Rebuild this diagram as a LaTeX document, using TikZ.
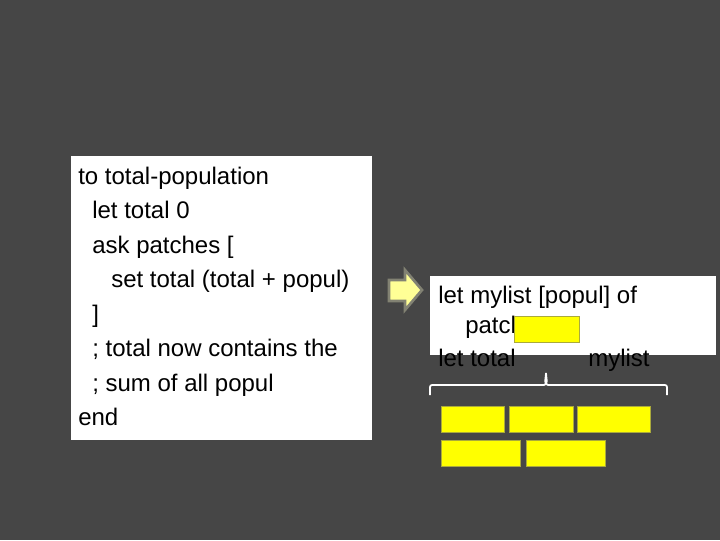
\documentclass[tikz,border=0pt]{standalone}
\usepackage{fontspec}
\setmainfont{Liberation Sans}

\definecolor{slidebg}{RGB}{70,70,70}
\definecolor{patchfill}{RGB}{255,255,0}
\definecolor{patchline}{RGB}{170,170,60}
\definecolor{arrowfill}{RGB}{255,255,150}
\definecolor{arrowline}{RGB}{130,130,115}

\begin{document}
\begin{tikzpicture}[
    x=0.75pt, y=-0.75pt,
    font=\fontsize{18}{21}\selectfont,
    codepanel/.style={fill=white,draw=none},
    codeline/.style={anchor=base west,inner sep=0pt,text=black},
    patchbox/.style={draw=patchline,fill=patchfill,line width=0.6pt},
    bracket/.style={draw=white,line width=1.3pt},
    blockarrow/.style={draw=arrowline,fill=arrowfill,line width=2pt,line join=miter},
]

% ---------- background ----------
\fill[slidebg] (0,0) rectangle (720,540);
\useasboundingbox (0,0) rectangle (720,540);

% ---------- left panel: the procedure ----------
\fill[codepanel] (71,156) rectangle (372,440);
\foreach \n/\x/\y/\txt in {1/78/184/{to total-population}, 2/92/218/{let total 0},
    3/92/253/{ask patches [}, 4/111/287/{set total (total + popul)}, 5/92/322/{]},
    6/92/356/{; total now contains the}, 7/92/391/{; sum of all popul}, 8/78/425/{end}}{
  \node[codeline] (l\n) at (\x,\y) {\txt};
}

% ---------- arrow ----------
\draw[blockarrow] (389,280) -- (405,280) -- (405,270) -- (422,290)
  -- (405,310) -- (405,301) -- (389,301) -- cycle;

% ---------- right panel: the list version ----------
\fill[codepanel] (430,276) rectangle (716,355);
\node[codeline] (r1) at (438,303) {let mylist [popul] of};
\node[codeline] (r2) at (465,333) {patch};
\node[codeline] (r3) at (438,366) {let total};
\node[codeline] (r4) at (588,366) {mylist};
\draw[patchbox] (514,316) rectangle (579,342);

% ---------- bracket over the list ----------
\draw[bracket] (430,395) -- (430,387) to[out=90,in=180] (432,385) -- (544,385)
  to[out=0,in=-90] (546,373) to[out=-90,in=180] (548,385) -- (665,385)
  to[out=0,in=90] (667,387) -- (667,395);

% ---------- patches ----------
\foreach \a/\b/\t in {441/504/406, 509/573/406, 577/650/406, 441/520/440, 526/605/440}{
  \draw[patchbox] (\a,\t) rectangle (\b,\t+26);
}

\end{tikzpicture}
\end{document}
